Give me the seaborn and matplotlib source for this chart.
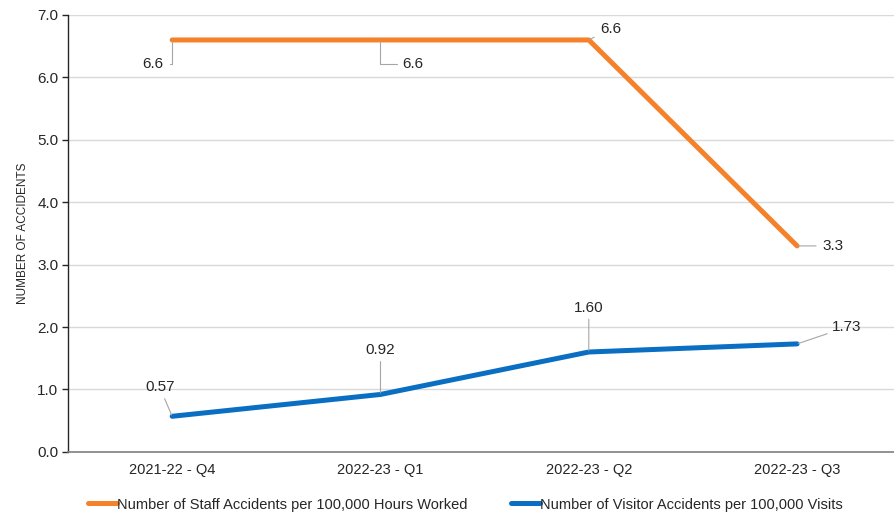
import matplotlib
matplotlib.use("Agg")
import matplotlib.pyplot as plt
import seaborn as sns
import pandas as pd
from matplotlib.ticker import FormatStrFormatter, FixedLocator

quarters = ["2021-22 - Q4", "2022-23 - Q1", "2022-23 - Q2", "2022-23 - Q3"]
staff_rate = [6.6, 6.6, 6.6, 3.3]
visitor_rate = [0.57, 0.92, 1.60, 1.73]
staff_name = "Number of Staff Accidents per 100,000 Hours Worked"
visitor_name = "Number of Visitor Accidents per 100,000 Visits"

df = pd.DataFrame({
    "pos": list(range(len(quarters))) * 2,
    "value": staff_rate + visitor_rate,
    "series": [staff_name] * len(quarters) + [visitor_name] * len(quarters),
})

sns.set_theme(style="white")
plt.rcParams["font.family"] = ["Liberation Sans", "DejaVu Sans"]

fig = plt.figure(figsize=(8.95, 5.17), dpi=100)
ax = fig.add_axes([0.076, 0.126, 0.924, 0.845])

palette = {staff_name: "#F5822A", visitor_name: "#0A6FC2"}
sns.lineplot(data=df, x="pos", y="value", hue="series", palette=palette,
             linewidth=3.6, ax=ax, legend=True, solid_capstyle="round")

ax.set_xlim(-0.5, 3.47)
ax.set_ylim(0, 7)
ax.set_yticks([i for i in range(8)])
ax.yaxis.set_major_formatter(FormatStrFormatter("%.1f"))
ax.set_xticks(range(len(quarters)))
ax.set_xticklabels(quarters)
ax.xaxis.set_minor_locator(FixedLocator([0.5, 1.5, 2.5]))
ax.tick_params(axis="x", which="major", length=0, pad=8, labelsize=10.5, labelcolor="#262626")
ax.tick_params(axis="x", which="minor", length=4, color="#595959", width=1, direction="out")
ax.tick_params(axis="y", length=4, color="#262626", width=1, direction="out", left=True,
               labelsize=11, labelcolor="#262626", pad=3)
ax.grid(axis="y", color="#D9D9D9", linewidth=1)
ax.set_axisbelow(True)
for s in ["top", "right"]:
    ax.spines[s].set_visible(False)
ax.spines["left"].set_color("#262626")
ax.spines["bottom"].set_color("#808080")
ax.spines["left"].set_linewidth(1)
ax.spines["bottom"].set_linewidth(1.2)
ax.set_xlabel("")
ax.set_ylabel("NUMBER OF ACCIDENTS", fontsize=8.5, color="#262626", labelpad=6)

# Data labels with leader lines (text offset, alignment, connector shape)
staff_labels = [
    ((-6, -17), "right", "angle,angleA=0,angleB=90,rad=0"),
    ((16, -17), "left", "angle,angleA=0,angleB=90,rad=0"),
    ((8, 8), "left", "arc3"),
    ((18, 0), "left", "arc3"),
]
visitor_labels = [
    ((-9, 21), "center", "arc3"),
    ((0, 32), "center", "arc3"),
    ((0, 32), "center", "arc3"),
    ((25, 12), "left", "arc3"),
]
for i, v in enumerate(staff_rate):
    (dx, dy), ha, cs = staff_labels[i]
    ax.annotate(f"{v:.1f}", xy=(i, v), xytext=(dx, dy), textcoords="offset points",
                ha=ha, va="center", fontsize=11, color="#262626",
                arrowprops=dict(arrowstyle="-", color="#A6A6A6", lw=0.8,
                                shrinkA=2, shrinkB=1, connectionstyle=cs))
for i, v in enumerate(visitor_rate):
    (dx, dy), ha, cs = visitor_labels[i]
    ax.annotate(f"{v:.2f}", xy=(i, v), xytext=(dx, dy), textcoords="offset points",
                ha=ha, va="center", fontsize=11, color="#262626",
                arrowprops=dict(arrowstyle="-", color="#A6A6A6", lw=0.8,
                                shrinkA=1, shrinkB=1, connectionstyle=cs))

handles, labels = ax.get_legend_handles_labels()
ax.get_legend().remove()
fig.legend(handles, labels, loc="center", bbox_to_anchor=(0.52, 0.024),
           ncol=2, frameon=False, fontsize=10.5, handlelength=2.0, handletextpad=0.0,
           columnspacing=3.0, labelcolor="#262626", borderaxespad=0, borderpad=0)

fig.savefig("out.png", dpi=100)
